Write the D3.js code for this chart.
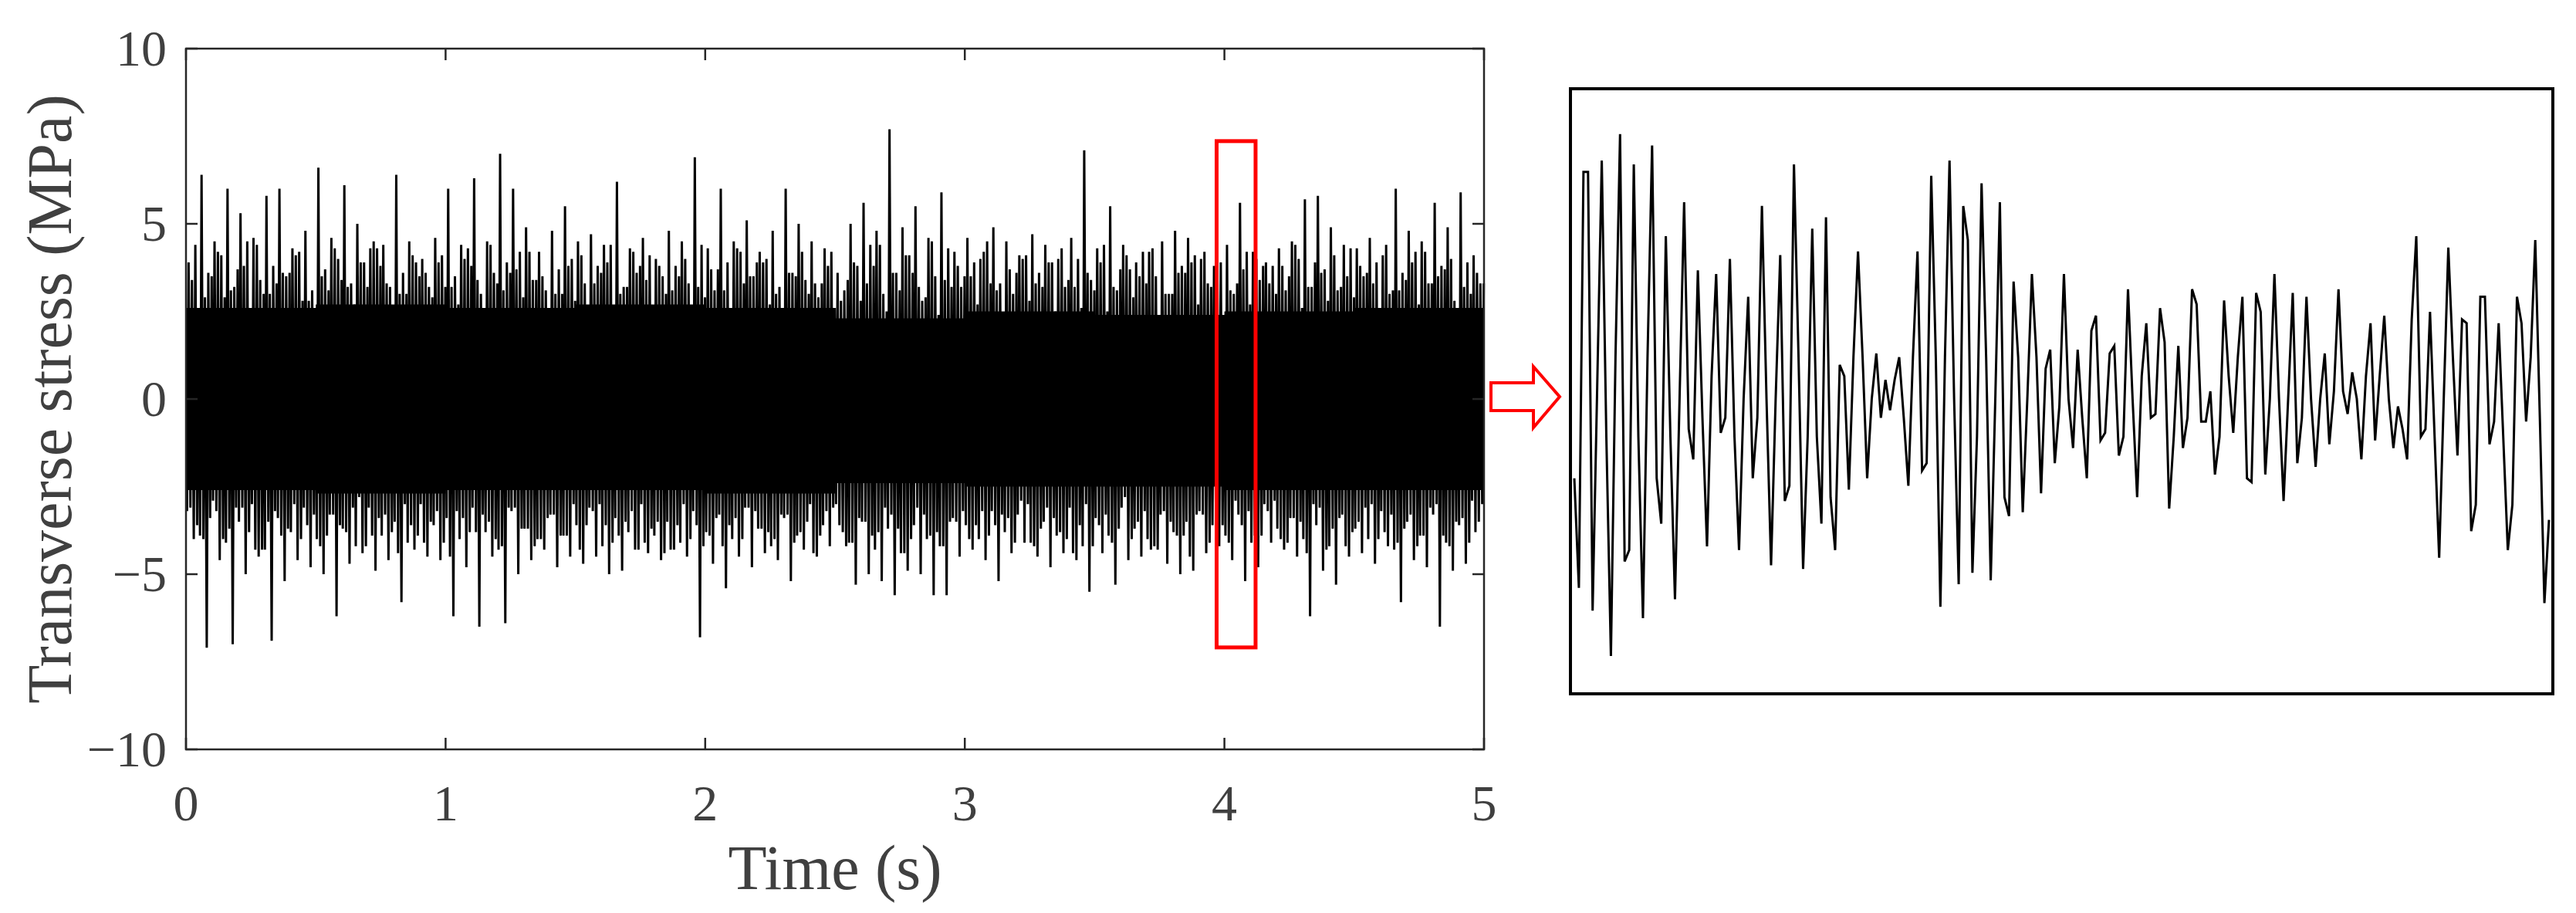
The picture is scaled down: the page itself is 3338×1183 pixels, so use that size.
<!DOCTYPE html>
<html>
<head>
<meta charset="utf-8">
<script src="https://cdn.jsdelivr.net/npm/d3@7"></script>
<style>
  body { margin: 0; background: #fff; }
  text { font-family: "Liberation Serif", "Times New Roman", serif; }
</style>
</head>
<body>
<svg id="chart" width="3338" height="1183"></svg>
<script>
"use strict";

// === Data ===
// upper / lower spike extremes of the long record, one per 0.05 s bin
const upperPeaks = [
  3.9, 6.4, 4.5, 6.0, 5.3, 4.6, 5.8, 6.0, 4.3, 4.8,
  6.6, 4.6, 6.1, 5.0, 4.3, 4.4, 6.4, 4.5, 4.0, 4.6,
  6.0, 4.4, 6.3, 4.5, 7.0, 6.0, 4.9, 4.2, 4.8, 5.5,
  4.5, 4.7, 4.4, 6.2, 4.3, 4.6, 4.0, 4.8, 4.5, 6.9,
  4.3, 6.0, 4.5, 5.1, 4.2, 4.8, 6.0, 5.0, 4.5, 4.3,
  3.6, 5.0, 5.6, 4.8, 7.7, 4.9, 5.5, 4.6, 5.9, 4.2,
  4.6, 4.0, 4.9, 4.5, 4.1, 4.7, 4.4, 4.0, 4.6, 7.1,
  4.3, 5.5, 4.4, 3.9, 4.2, 4.5, 4.8, 4.6, 4.0, 3.8,
  4.4, 5.6, 4.2, 3.9, 4.3, 4.5, 5.7, 5.8, 4.9, 4.4,
  4.3, 4.6, 4.1, 6.0, 4.8, 4.5, 5.6, 4.9, 5.9, 4.1
];
const lowerPeaks = [
  -4.0, -7.1, -4.6, -7.0, -5.0, -4.5, -6.9, -5.2, -4.6, -4.8,
  -5.0, -6.2, -4.7, -4.4, -4.9, -4.6, -5.8, -4.3, -4.5, -4.6,
  -6.2, -4.8, -6.5, -4.5, -6.4, -5.0, -4.6, -4.3, -4.8, -4.5,
  -4.7, -4.5, -5.0, -4.9, -4.3, -4.4, -4.6, -4.3, -4.5, -6.8,
  -4.7, -5.4, -4.5, -4.8, -4.4, -4.6, -5.2, -4.3, -4.5, -4.2,
  -3.8, -5.3, -5.0, -5.2, -5.6, -4.9, -5.0, -5.6, -5.6, -4.5,
  -4.3, -4.6, -5.2, -4.4, -4.1, -4.5, -4.8, -4.4, -4.6, -5.5,
  -4.4, -5.3, -4.6, -4.5, -4.2, -4.7, -5.0, -4.9, -4.4, -4.2,
  -4.6, -5.2, -4.8, -4.1, -4.3, -4.5, -6.2, -4.9, -5.3, -4.5,
  -4.4, -4.7, -4.2, -5.8, -4.6, -4.8, -6.5, -4.9, -4.7, -3.5
];
// secondary (smaller) swings, one pair per 0.05 s bin
const midHigh = [
  3.4, 2.9, 4.2, 3.1, 3.8, 4.4, 3.0, 3.6, 4.1, 2.8,
  3.5, 4.3, 3.2, 3.9, 4.5, 3.3, 3.0, 4.1, 3.6, 3.9,
  3.2, 4.0, 3.4, 4.4, 3.1, 3.7, 4.2, 3.5, 3.0, 3.8,
  4.1, 3.3, 3.9, 3.0, 4.2, 3.4, 3.8, 3.1, 4.0, 3.2,
  3.7, 3.1, 4.3, 3.5, 3.9, 3.0, 3.6, 4.2, 3.3, 3.8,
  2.8, 3.9, 3.3, 4.4, 3.6, 4.1, 3.2, 4.5, 3.4, 3.8,
  3.5, 4.2, 3.1, 3.7, 4.0, 3.3, 3.9, 4.3, 3.2, 3.6,
  3.9, 3.2, 4.1, 3.5, 4.3, 3.0, 3.6, 3.9, 4.2, 3.4,
  3.1, 3.7, 4.0, 3.3, 3.8, 4.4, 3.2, 3.6, 4.1, 3.5,
  3.8, 3.3, 4.4, 3.1, 3.9, 4.2, 3.5, 4.0, 3.2, 3.6
];
const midLow = [
  -3.2, -3.9, -2.9, -4.1, -3.5, -3.0, -4.3, -3.4, -3.8, -3.1,
  -4.0, -3.3, -3.7, -4.2, -3.1, -3.9, -3.5, -4.1, -3.0, -3.6,
  -3.4, -4.0, -3.1, -3.8, -4.3, -3.2, -3.7, -4.0, -3.3, -3.9,
  -3.6, -3.1, -4.2, -3.4, -3.8, -3.0, -3.9, -3.5, -4.1, -3.2,
  -3.8, -3.3, -4.0, -3.1, -3.7, -4.2, -3.4, -3.9, -3.0, -3.6,
  -3.0, -4.1, -3.5, -4.3, -3.7, -4.4, -3.6, -4.0, -4.2, -3.4,
  -3.6, -4.0, -3.2, -3.8, -3.3, -4.1, -3.5, -3.9, -3.1, -4.2,
  -3.4, -3.9, -3.1, -3.7, -4.0, -3.3, -3.8, -3.5, -3.2, -3.6,
  -3.9, -3.3, -4.1, -3.0, -3.7, -3.4, -4.0, -3.6, -4.2, -3.3,
  -3.7, -4.0, -3.2, -4.3, -3.5, -3.9, -3.3, -4.1, -3.6, -2.9
];
// solid core of the record, one value per 0.5 s
const coreHigh = [2.6, 2.7, 2.6, 2.7, 2.6, 2.3, 2.5, 2.4, 2.5, 2.6];
const coreLow  = [-2.6, -2.7, -2.6, -2.6, -2.7, -2.4, -2.5, -2.5, -2.6, -2.6];

// zoomed window (4.0 – 4.12 s), consecutive samples in MPa
const zoomValues = [
  -2.3, -5.2, 5.8, 5.8, -5.8, 0.1, 6.1, -1.2, -7.0, 0.9,
  6.8, -4.5, -4.2, 6.0, -1.2, -6.0, 0.9, 6.5, -2.3, -3.5,
  4.1, -1.2, -5.5, -0.2, 5.0, -1.0, -1.8, 3.2, -0.7, -4.1,
  0.4, 3.1, -1.1, -0.7, 3.5, -1.2, -4.2, -0.2, 2.5, -2.3,
  -0.7, 4.9, -0.2, -4.6, -0.2, 3.6, -2.9, -2.5, 6.0, 0.9,
  -4.7, -1.2, 4.3, -1.2, -3.5, 4.6, -2.8, -4.2, 0.7, 0.4,
  -2.6, 0.9, 3.7, 0.9, -2.3, -0.2, 1.0, -0.7, 0.3, -0.5,
  0.3, 0.9, -0.7, -2.5, 0.9, 3.7, -2.1, -1.9, 5.7, 0.9,
  -5.7, 0.9, 6.1, -0.2, -5.1, 4.9, 4.0, -4.8, -1.2, 5.5,
  0.9, -5.0, -0.2, 5.0, -2.8, -3.3, 2.9, 0.9, -3.2, -0.2,
  3.1, 0.9, -2.7, 0.6, 1.1, -1.9, -0.4, 3.1, -0.2, -1.5,
  1.1, -0.7, -2.3, 1.6, 2.0, -1.3, -1.1, 1.0, 1.2, -1.7,
  -1.2, 2.7, -0.2, -2.8, 0.4, 1.8, -0.7, -0.6, 2.2, 1.3,
  -3.1, -1.2, 1.2, -1.5, -0.7, 2.7, 2.3, -0.8, -0.8, 0.0,
  -2.2, -1.2, 2.4, 0.4, -1.1, 0.9, 2.5, -2.3, -2.4, 2.6,
  2.1, -2.2, -0.2, 3.1, -0.2, -2.9, -0.2, 2.6, -1.9, -0.7,
  2.5, -0.2, -2.0, -0.2, 1.0, -1.4, 0.0, 2.7, 0.0, -0.6,
  0.5, -0.2, -1.8, 0.4, 1.8, -1.3, 0.4, 2.0, -0.2, -1.5,
  -0.4, -1.0, -1.8, 1.9, 4.1, -1.2, -1.0, 2.1, -1.2, -4.4,
  -0.2, 3.8, 0.9, -1.7, 1.9, 1.8, -3.7, -3.0, 2.5, 2.5,
  -1.4, -0.8, 1.8, -1.2, -4.2, -3.0, 2.5, 1.8, -0.8, 0.9,
  4.0, -0.7, -5.6, -3.4
];

const xTicks = [0, 1, 2, 3, 4, 5];
const yTicks = [-10, -5, 0, 5, 10];
const zoomRange = [3.97, 4.12];      // time span of red box
const zoomStress = [-7.09, 7.36];    // stress span of red box

// === Layout ===
const svg = d3.select("#chart");
const axisColor = "#262626";
const labelColor = "#404040";
const plot = { left: 241, right: 1923, top: 63, bottom: 971 };
const inset = { left: 2035, right: 3308, top: 115, bottom: 899 };

const x = d3.scaleLinear().domain([0, 5]).range([plot.left, plot.right]);
const y = d3.scaleLinear().domain([-10, 10]).range([plot.bottom, plot.top]);

// === Long record ===
const g = svg.append("g");
g.append("path")
  .datum(coreHigh.map((h, i) => ({ t: i * 0.5, h: h, l: coreLow[i] })).concat([{ t: 5, h: coreHigh[9], l: coreLow[9] }]))
  .attr("fill", "#000")
  .attr("d", d3.area().curve(d3.curveStepAfter)
    .x(d => x(d.t)).y0(d => y(d.l)).y1(d => y(d.h)));

const zig = [];
upperPeaks.forEach((u, i) => {
  const t0 = i * 0.05;
  zig.push([t0 + 0.004, midLow[i]]);
  zig.push([t0 + 0.010, u]);
  zig.push([t0 + 0.017, -midHigh[(i + 37) % 100]]);
  zig.push([t0 + 0.023, midHigh[i]]);
  zig.push([t0 + 0.030, lowerPeaks[i]]);
  zig.push([t0 + 0.036, midHigh[(i + 53) % 100]]);
  zig.push([t0 + 0.043, midLow[(i + 19) % 100]]);
  zig.push([t0 + 0.049, midHigh[(i + 71) % 100] - 0.6]);
});
g.append("path")
  .datum(zig)
  .attr("fill", "none").attr("stroke", "#000").attr("stroke-width", 3)
  .attr("d", d3.line().x(d => x(d[0])).y(d => y(d[1])));

// === Axes box with inward ticks on all sides ===
const tickLen = 15;
svg.append("rect")
  .attr("x", plot.left).attr("y", plot.top)
  .attr("width", plot.right - plot.left).attr("height", plot.bottom - plot.top)
  .attr("fill", "none").attr("stroke", axisColor).attr("stroke-width", 2.5);

xTicks.forEach(t => {
  svg.append("line").attr("x1", x(t)).attr("x2", x(t))
    .attr("y1", plot.bottom).attr("y2", plot.bottom - tickLen)
    .attr("stroke", axisColor).attr("stroke-width", 2.5);
  svg.append("line").attr("x1", x(t)).attr("x2", x(t))
    .attr("y1", plot.top).attr("y2", plot.top + tickLen)
    .attr("stroke", axisColor).attr("stroke-width", 2.5);
  svg.append("text").attr("x", x(t)).attr("y", plot.bottom + 92)
    .attr("text-anchor", "middle").attr("font-size", 66).attr("fill", labelColor)
    .text(t);
});
yTicks.forEach(v => {
  svg.append("line").attr("x1", plot.left).attr("x2", plot.left + tickLen)
    .attr("y1", y(v)).attr("y2", y(v))
    .attr("stroke", axisColor).attr("stroke-width", 2.5);
  svg.append("line").attr("x1", plot.right).attr("x2", plot.right - tickLen)
    .attr("y1", y(v)).attr("y2", y(v))
    .attr("stroke", axisColor).attr("stroke-width", 2.5);
  svg.append("text").attr("x", plot.left - 25).attr("y", y(v) + 22)
    .attr("text-anchor", "end").attr("font-size", 66).attr("fill", labelColor)
    .text(v < 0 ? "\u2212" + Math.abs(v) : v);
});

svg.append("text")
  .attr("x", (plot.left + plot.right) / 2).attr("y", 1152)
  .attr("text-anchor", "middle").attr("font-size", 82).attr("fill", labelColor)
  .text("Time (s)");
svg.append("text")
  .attr("transform", `translate(92, ${(plot.top + plot.bottom) / 2}) rotate(-90)`)
  .attr("text-anchor", "middle").attr("font-size", 82).attr("fill", labelColor)
  .text("Transverse stress (MPa)");

// === Red selection box and arrow ===
svg.append("rect")
  .attr("x", x(zoomRange[0])).attr("y", y(zoomStress[1]))
  .attr("width", x(zoomRange[1]) - x(zoomRange[0]))
  .attr("height", y(zoomStress[0]) - y(zoomStress[1]))
  .attr("fill", "none").attr("stroke", "#ff0000").attr("stroke-width", 5);

svg.append("path")
  .attr("d", "M1932,496 L1987,496 L1987,475 L2021,514 L1987,554 L1987,532 L1932,532 Z")
  .attr("fill", "#fff").attr("stroke", "#ff0000").attr("stroke-width", 4);

// === Zoomed inset ===
const xz = d3.scaleLinear().domain([0, zoomValues.length - 1]).range([inset.left + 5, inset.right - 5]);
const yz = d3.scaleLinear().domain([-8, 8]).range([inset.bottom, inset.top]);

svg.append("path")
  .datum(zoomValues)
  .attr("fill", "none").attr("stroke", "#000").attr("stroke-width", 3)
  .attr("d", d3.line().x((d, i) => xz(i)).y(d => yz(d)));

svg.append("rect")
  .attr("x", inset.left).attr("y", inset.top)
  .attr("width", inset.right - inset.left).attr("height", inset.bottom - inset.top)
  .attr("fill", "none").attr("stroke", "#000").attr("stroke-width", 4);
</script>
</body>
</html>
